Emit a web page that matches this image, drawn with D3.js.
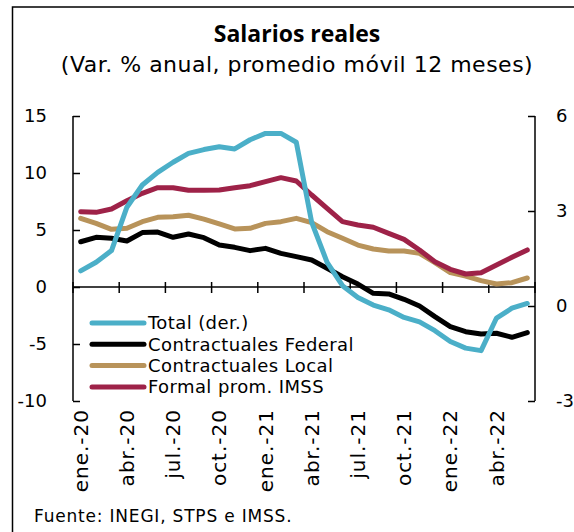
<!DOCTYPE html>
<html>
<head>
<meta charset="utf-8">
<script src="https://cdn.jsdelivr.net/npm/d3@7"></script>
<style>
  body { margin: 0; background: #fff; }
  svg text { font-family: 'DejaVu Sans', sans-serif; fill: #000; }
  svg text.title { font-family: 'Open Sans', sans-serif; }
</style>
</head>
<body>
<div id="chart"></div>
<script>
// Months (ene.-20 .. jun.-22)
var months = ['ene.-20', 'feb.-20', 'mar.-20', 'abr.-20', 'may.-20', 'jun.-20', 'jul.-20', 'ago.-20', 'sep.-20', 'oct.-20', 'nov.-20', 'dic.-20',
  'ene.-21', 'feb.-21', 'mar.-21', 'abr.-21', 'may.-21', 'jun.-21', 'jul.-21', 'ago.-21', 'sep.-21', 'oct.-21', 'nov.-21', 'dic.-21',
  'ene.-22', 'feb.-22', 'mar.-22', 'abr.-22', 'may.-22', 'jun.-22']

// Series values
var totalValues = [1.11, 1.38, 1.75, 3.12, 3.82, 4.22, 4.54, 4.82, 4.94, 5.03, 4.96, 5.25, 5.45, 5.45, 5.17,
  2.64, 1.38, 0.64, 0.27, 0.03, -0.12, -0.36, -0.5, -0.78, -1.12, -1.33, -1.41, -0.38, -0.07, 0.08]
var federalValues = [3.97, 4.36, 4.27, 4.04, 4.77, 4.82, 4.36, 4.65, 4.33, 3.68, 3.48, 3.19, 3.39, 2.95, 2.66,
  2.37, 1.64, 0.9, 0.26, -0.55, -0.61, -1.08, -1.67, -2.6, -3.48, -3.92, -4.12, -4.06, -4.41, -4.0]
var localValues = [6.02, 5.58, 5.06, 5.15, 5.73, 6.11, 6.17, 6.29, 5.96, 5.53, 5.09, 5.15, 5.58, 5.73, 6.02,
  5.64, 4.85, 4.27, 3.68, 3.33, 3.16, 3.16, 2.95, 2.13, 1.26, 0.96, 0.56, 0.26, 0.38, 0.79]
var imssValues = [6.61, 6.55, 6.84, 7.57, 8.22, 8.71, 8.71, 8.48, 8.48, 8.51, 8.71, 8.89, 9.24, 9.59, 9.3,
  8.07, 6.9, 5.73, 5.44, 5.24, 4.71, 4.18, 3.25, 2.22, 1.55, 1.14, 1.26, 1.93, 2.6, 3.25]

// Tick values for both axes
var leftTicks = [-10, -5, 0, 5, 10, 15]
var rightTicks = [-3, 0, 3, 6]

// Legend entries, drawn in this order
var seriesNames = ['Total (der.)', 'Contractuales Federal', 'Contractuales Local', 'Formal prom. IMSS']
var seriesColors = ['#4bafc8', '#000000', '#b8935a', '#9e2248']

// Layout
var width = 574
var height = 532
var plot = { left: 73, right: 535, top: 116, bottom: 401 }

var svg = d3.select('#chart').append('svg')
  .attr('width', width)
  .attr('height', height)

// Frame round the chart (only left and top show in the picture)
svg.append('rect')
  .attr('x', 12.5)
  .attr('y', 7)
  .attr('width', 600)
  .attr('height', 600)
  .style('fill', 'none')
  .style('stroke', '#000')
  .style('stroke-width', '1.5px')

// Titles
svg.append('text')
  .attr('class', 'title')
  .attr('x', 297)
  .attr('y', 42)
  .attr('text-anchor', 'middle')
  .style('font-size', '23px')
  .style('font-weight', 'bold')
  .text('Salarios reales')

svg.append('text')
  .attr('x', 297)
  .attr('y', 72)
  .attr('text-anchor', 'middle')
  .style('font-size', '22px')
  .style('letter-spacing', '0.5px')
  .text('(Var. % anual, promedio móvil 12 meses)')

// Scales
var xScale = d3.scaleBand()
  .domain(months)
  .range([plot.left, plot.right])
  .padding(0)

var yLeft = d3.scaleLinear()
  .domain([-10, 15])
  .range([plot.bottom, plot.top])

var yRight = d3.scaleLinear()
  .domain([-3, 6])
  .range([plot.bottom, plot.top])

function xMid (d, i) { return xScale(months[i]) + xScale.bandwidth() / 2 }

// Left axis, ticks pointing inward
var leftAxis = svg.append('g')
  .attr('transform', 'translate(' + plot.left + ',0)')
  .call(d3.axisRight(yLeft).tickValues(leftTicks).tickSize(7).tickFormat(''))
leftAxis.select('.domain').attr('d', 'M0,' + plot.top + 'V' + plot.bottom)

svg.append('g').selectAll('text')
  .data(leftTicks)
  .enter().append('text')
  .attr('x', 47)
  .attr('y', function (d) { return yLeft(d) })
  .attr('dy', '.35em')
  .attr('text-anchor', 'end')
  .style('font-size', '18px')
  .text(function (d) { return d })

// Right axis, ticks pointing inward
var rightAxis = svg.append('g')
  .attr('transform', 'translate(' + plot.right + ',0)')
  .call(d3.axisLeft(yRight).tickValues(rightTicks).tickSize(7).tickFormat(''))
rightAxis.select('.domain').attr('d', 'M0,' + plot.top + 'V' + plot.bottom)

svg.append('g').selectAll('text')
  .data(rightTicks)
  .enter().append('text')
  .attr('x', 556)
  .attr('y', function (d) { return yRight(d) })
  .attr('dy', '.35em')
  .attr('text-anchor', 'start')
  .style('font-size', '18px')
  .text(function (d) { return d })

svg.selectAll('.domain, .tick line')
  .style('stroke', '#000')
  .style('stroke-width', '1.5px')

// Category axis at zero, tick marks between every third month
var zeroY = yLeft(0)
var boundaries = d3.range(0, months.length + 1, 3)

svg.append('line')
  .attr('x1', plot.left)
  .attr('x2', plot.right)
  .attr('y1', zeroY)
  .attr('y2', zeroY)
  .style('stroke', '#000')
  .style('stroke-width', '1.5px')

svg.append('g').selectAll('line')
  .data(boundaries)
  .enter().append('line')
  .attr('x1', function (d) { return plot.left + d * xScale.bandwidth() })
  .attr('x2', function (d) { return plot.left + d * xScale.bandwidth() })
  .attr('y1', zeroY - 5)
  .attr('y2', zeroY + 6)
  .style('stroke', '#000')
  .style('stroke-width', '1.5px')

// Month labels, rotated
svg.append('g').selectAll('text')
  .data(months.filter(function (d, i) { return i % 3 === 0 }))
  .enter().append('text')
  .attr('transform', function (d) {
    return 'translate(' + (xScale(d) + xScale.bandwidth() / 2 + 7) + ',409) rotate(-90)'
  })
  .attr('text-anchor', 'end')
  .style('font-size', '20px')
  .style('letter-spacing', '1px')
  .text(function (d) { return d })

// Lines
var leftLine = d3.line()
  .x(xMid)
  .y(function (d) { return yLeft(d) })

var rightLine = d3.line()
  .x(xMid)
  .y(function (d) { return yRight(d) })

var paths = [
  { values: federalValues, line: leftLine, color: seriesColors[1] },
  { values: localValues, line: leftLine, color: seriesColors[2] },
  { values: imssValues, line: leftLine, color: seriesColors[3] },
  { values: totalValues, line: rightLine, color: seriesColors[0] }
]

svg.append('g').selectAll('path')
  .data(paths)
  .enter().append('path')
  .attr('d', function (d) { return d.line(d.values) })
  .style('fill', 'none')
  .style('stroke', function (d) { return d.color })
  .style('stroke-width', '5px')
  .style('stroke-linejoin', 'round')
  .style('stroke-linecap', 'round')

// Legend
var legend = svg.append('g').selectAll('g')
  .data(seriesNames)
  .enter().append('g')
  .attr('transform', function (d, i) { return 'translate(92,' + (323 + i * 21.3) + ')' })

legend.append('line')
  .attr('x1', 0)
  .attr('x2', 52)
  .style('stroke', function (d, i) { return seriesColors[i] })
  .style('stroke-width', '5px')
  .style('stroke-linecap', 'round')

legend.append('text')
  .attr('x', 56)
  .attr('dy', '.35em')
  .style('font-size', '18px')
  .style('letter-spacing', '0.4px')
  .text(function (d) { return d })

// Source
svg.append('text')
  .attr('x', 34)
  .attr('y', 522)
  .style('font-size', '17px')
  .style('letter-spacing', '0.8px')
  .text('Fuente: INEGI, STPS e IMSS.')
</script>
</body>
</html>
